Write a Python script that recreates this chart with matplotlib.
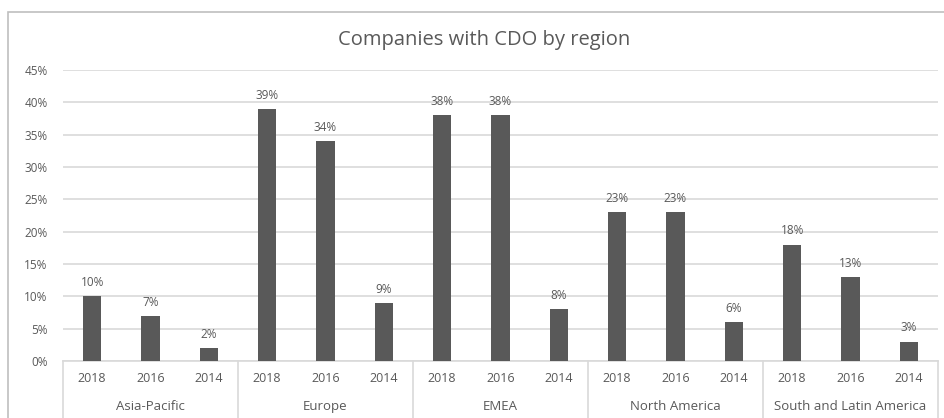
import numpy as np
import matplotlib.pyplot as plt
from matplotlib.patches import Rectangle

regions = ["Asia-Pacific", "Europe", "EMEA", "North America", "South and Latin America"]
years = ["2018", "2016", "2014"]
share = [
    [10, 7, 2],
    [39, 34, 9],
    [38, 38, 8],
    [23, 23, 6],
    [18, 13, 3],
]

txt = "#595959"
bar_col = "#595959"
grid_col = "#d9d9d9"

W, H = 944, 418
fig = plt.figure(figsize=(W / 100, H / 100), dpi=100)
plt.rcParams["font.family"] = ["Open Sans", "DejaVu Sans"]

# chart area border, running off the right and bottom edges
fig.patches.append(Rectangle((8 / W, -0.1), 1.0, 1 - 12 / H + 0.1,
                             transform=fig.transFigure, fill=False,
                             edgecolor="#bfbfbf", linewidth=1.2))

left, right, top, bottom = 63, 938, 70, 361
ax = fig.add_axes([left / W, 1 - bottom / H, (right - left) / W, (bottom - top) / H])

n_years = len(years)
vals = np.array(share, dtype=float).ravel() / 100
x = np.arange(len(vals))
ax.bar(x, vals, width=0.31, color=bar_col, zorder=3)
for xi, v in zip(x, vals):
    ax.text(xi, v + 0.011, f"{v * 100:.0f}%", ha="center", va="bottom",
            fontsize=8.5, color=txt)

ax.set_xlim(-0.5, len(vals) - 0.5)
ax.set_ylim(0, 0.45)
ax.set_yticks(np.arange(0, 0.451, 0.05))
ax.set_yticklabels([f"{t * 100:.0f}%" for t in np.arange(0, 0.451, 0.05)])
ax.yaxis.grid(True, color=grid_col, linewidth=1.2, zorder=0)
ax.tick_params(axis="y", length=0, pad=11, labelsize=8.5, labelcolor=txt)
ax.set_xticks(x)
ax.set_xticklabels(years * len(regions))
ax.tick_params(axis="x", length=0, pad=8, labelsize=9, labelcolor=txt)
for s in ["top", "right", "left"]:
    ax.spines[s].set_visible(False)
ax.spines["bottom"].set_color(grid_col)
ax.spines["bottom"].set_linewidth(1.2)

# region names and separators under the year labels
trans = ax.get_xaxis_transform()
for i, name in enumerate(regions):
    c = i * n_years + (n_years - 1) / 2
    ax.text(c, -0.155, name, transform=trans, ha="center", va="center",
            fontsize=9.5, color=txt)
for b in range(len(regions) + 1):
    xb = b * n_years - 0.5
    ax.plot([xb, xb], [0, -0.3], transform=trans, color=grid_col,
            linewidth=1.2, clip_on=False)

fig.text(484 / W, 1 - 40 / H, "Companies with CDO by region", ha="center",
         va="center", fontsize=14.5, color=txt)

fig.savefig("out.png", dpi=100)
